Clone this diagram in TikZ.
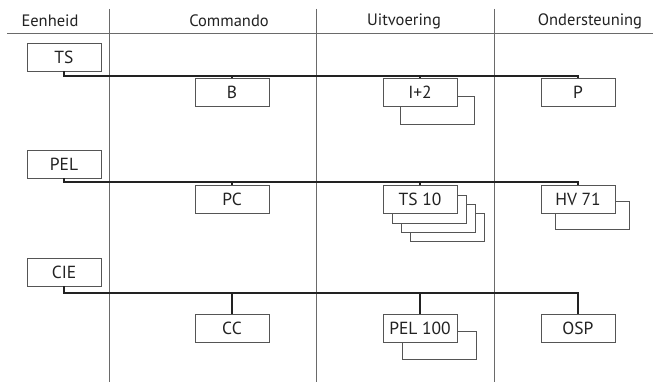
\documentclass[tikz,border=0pt]{standalone}
\usepackage{fontspec}
\setmainfont{PT Sans}
\definecolor{ink}{HTML}{222222}
\definecolor{rule}{HTML}{6A6A6A}
\definecolor{boxline}{HTML}{555555}
\begin{document}
\begin{tikzpicture}[x=1pt,y=-1pt,
  box/.style={draw=boxline,line width=0.8pt,fill=white,minimum width=74pt,minimum height=28pt,inner sep=0pt,text=ink,font=\fontsize{17.5}{20}\selectfont},
  conn/.style={draw=ink,line width=1.2pt},
  gridline/.style={draw=rule,line width=0.8pt},
  head/.style={text=ink,font=\fontsize{16.5}{20}\selectfont,inner sep=0pt}]
\fill[white] (0,0) rectangle (656,382);
\useasboundingbox (0,0) rectangle (656,382);
% grid
\draw[gridline] (7,33) -- (653,33);
\draw[gridline] (109,9) -- (109,382);
\draw[gridline] (316,9) -- (316,382);
\draw[gridline] (494,9) -- (494,382);
% headers
\node[head] (h1) at (50,21) {Eenheid};
\node[head] (h2) at (229,21) {Commando};
\node[head] (h3) at (404,21) {Uitvoering};
\node[head] (h4) at (590,21) {Ondersteuning};
% row 1
\node[box] (TS) at (64,57) {TS};
\node[box] (B) at (232,92.5) {B};
\node[box] (I2s) at (437,110.5) {};
\node[box] (I2) at (420,92.5) {I+2};
\node[box] (P) at (578,92.5) {P};
\coordinate (bus1) at (0,76);
\draw[conn] (TS.south) |- (bus1 -| P.north) -- (P.north);
\draw[conn] (B.north) -- (B.north |- bus1);
\draw[conn] (I2.north) -- (I2.north |- bus1);
% row 2
\node[box] (PEL) at (64,164) {PEL};
\node[box] (PC) at (232,199) {PC};
\node[box] (TSc) at (447,227.5) {};
\node[box] (TSb) at (438,218.5) {};
\node[box] (TSa) at (429,209) {};
\node[box] (TS10) at (420,199.5) {TS 10};
\node[box] (HVs) at (592,215.5) {};
\node[box] (HV) at (578,199.5) {HV 71};
\coordinate (bus2) at (0,182);
\draw[conn] (PEL.south) |- (bus2 -| HV.north) -- (HV.north);
\draw[conn] (PC.north) -- (PC.north |- bus2);
\draw[conn] (TS10.north) -- (TS10.north |- bus2);
% row 3
\node[box] (CIE) at (64,272) {CIE};
\node[box] (CC) at (232,328) {CC};
\node[box] (PELs) at (439,345) {};
\node[box] (PEL100) at (420,328) {PEL 100};
\node[box] (OSP) at (578,328) {OSP};
\coordinate (bus3) at (0,293);
\draw[conn] (CIE.south) |- (bus3 -| OSP.north) -- (OSP.north);
\draw[conn] (CC.north) -- (CC.north |- bus3);
\draw[conn] (PEL100.north) -- (PEL100.north |- bus3);
\end{tikzpicture}
\end{document}
